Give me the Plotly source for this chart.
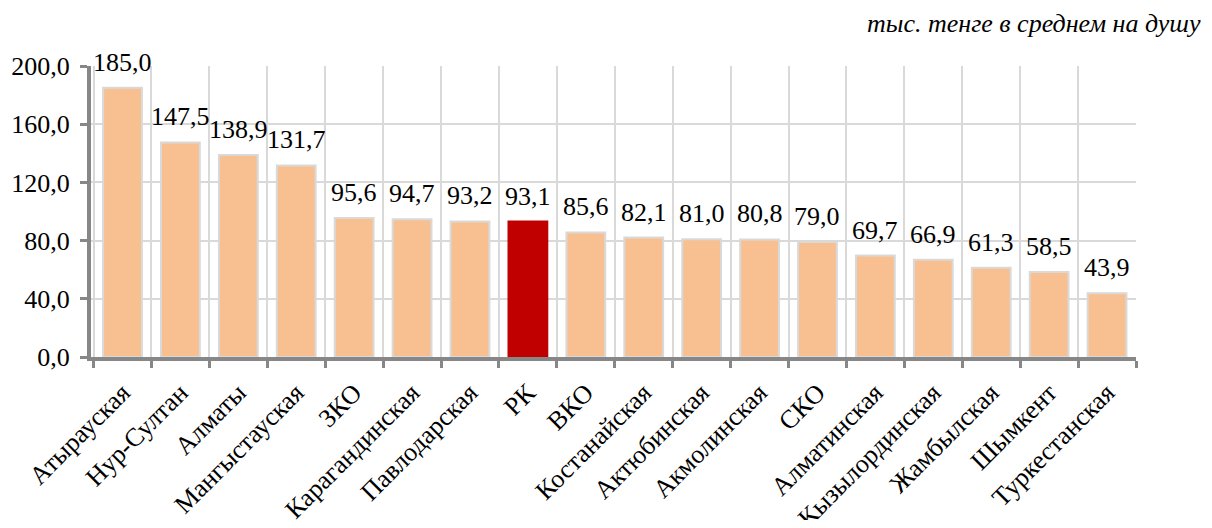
import plotly.graph_objects as go

regions = ["Атырауская", "Нур-Султан", "Алматы", "Мангыстауская", "ЗКО", "Карагандинская",
           "Павлодарская", "РК", "ВКО", "Костанайская", "Актюбинская", "Акмолинская", "СКО",
           "Алматинская", "Кызылординская", "Жамбылская", "Шымкент", "Туркестанская"]
values = [185.0, 147.5, 138.9, 131.7, 95.6, 94.7, 93.2, 93.1, 85.6, 82.1, 81.0, 80.8, 79.0,
          69.7, 66.9, 61.3, 58.5, 43.9]
highlight = "РК"
y_ticks = [0, 40, 80, 120, 160, 200]

colors = ["#c00000" if r == highlight else "#f8c090" for r in regions]
line_colors = ["#c00000" if r == highlight else "#d9d9d9" for r in regions]

fig = go.Figure()
fig.add_trace(go.Bar(
    x=regions, y=values,
    marker=dict(color=colors, line=dict(color=line_colors, width=2)),
    hoverinfo="x+y",
))

font_family = "Times New Roman, Liberation Serif, serif"
for r, v in zip(regions, values):
    fig.add_annotation(
        x=r, y=v, text=f"{v:.1f}".replace(".", ","), showarrow=False,
        yanchor="bottom", yshift=9,
        font=dict(family=font_family, size=26, color="#000000"),
    )

fig.add_annotation(
    xref="paper", yref="paper", x=1.0, y=1.0, xshift=67, yshift=43,
    text="<i>тыс. тенге в среднем на душу</i>", showarrow=False,
    xanchor="right", yanchor="middle",
    font=dict(family=font_family, size=26, color="#000000"),
)

# page body has an 8px margin: figure is 1196x512 so that page = 1212x528
fig.update_layout(
    width=1196, height=512,
    margin=dict(l=83, r=68, t=58, b=163, autoexpand=False),
    paper_bgcolor="white", plot_bgcolor="white",
    bargap=0.33, showlegend=False,
    separators=", ",
    font=dict(family=font_family, color="#000000"),
)
fig.update_xaxes(
    automargin=False,
    tickson="boundaries", showgrid=True, gridcolor="#d9d9d9", gridwidth=1.5,
    showline=True, linecolor="#878787", linewidth=4,
    ticks="outside", ticklen=7, tickwidth=3, tickcolor="#878787",
    ticklabelstandoff=6,
    tickangle=-45, tickfont=dict(family=font_family, size=26, color="#000000"),
)
fig.update_yaxes(
    automargin=False,
    range=[0, 200], tickvals=y_ticks, tickformat=".1f",
    showgrid=True, gridcolor="#d9d9d9", gridwidth=1.5,
    showline=True, linecolor="#878787", linewidth=4,
    ticks="outside", ticklen=7, tickwidth=3, tickcolor="#878787",
    ticklabelstandoff=5,
    tickfont=dict(family=font_family, size=26, color="#000000"),
    zeroline=False,
)

fig.write_html("out.html")
